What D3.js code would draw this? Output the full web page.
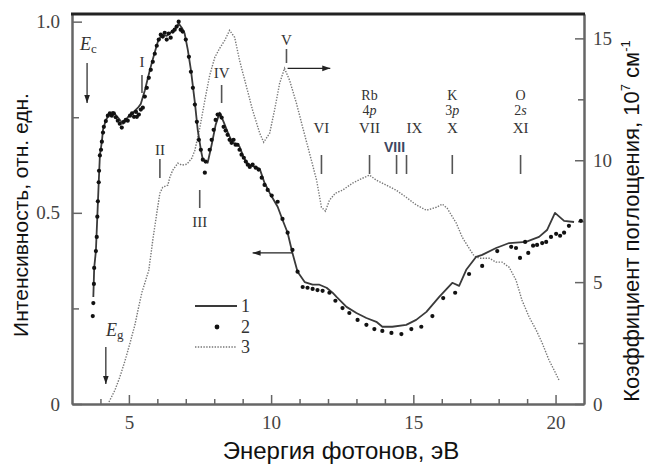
<!DOCTYPE html>
<html>
<head>
<meta charset="utf-8">
<script src="https://cdn.jsdelivr.net/npm/d3@7"></script>
<style>
  body { margin: 0; background: #fff; }
</style>
</head>
<body>
<svg id="chart"></svg>
<script>
// curve 1: luminescence excitation (solid), [energy eV, intensity]
const line1 = [
  [3.75, 0.28], [3.78, 0.356], [3.84, 0.40], [3.89, 0.49], [3.94, 0.58], [3.98, 0.65],
  [4.05, 0.686], [4.09, 0.717], [4.19, 0.743], [4.33, 0.76], [4.44, 0.764], [4.61, 0.75],
  [4.79, 0.733], [4.96, 0.75], [5.14, 0.762], [5.32, 0.775], [5.42, 0.785], [5.56, 0.82],
  [5.74, 0.874], [5.91, 0.92], [6.02, 0.948], [6.16, 0.966], [6.33, 0.963], [6.51, 0.974],
  [6.65, 0.984], [6.75, 0.995], [6.86, 0.984], [6.96, 0.969], [7.07, 0.927], [7.18, 0.874],
  [7.32, 0.788], [7.42, 0.717], [7.53, 0.665], [7.60, 0.639], [7.77, 0.631], [7.91, 0.678],
  [8.05, 0.73], [8.19, 0.762], [8.33, 0.738], [8.51, 0.704], [8.65, 0.683], [8.79, 0.681],
  [8.89, 0.673], [9.04, 0.644], [9.18, 0.628], [9.42, 0.62], [9.60, 0.615], [9.77, 0.578],
  [9.95, 0.552], [10.23, 0.516], [10.40, 0.482], [10.58, 0.448], [10.75, 0.395], [10.93, 0.346],
  [11.18, 0.319], [11.46, 0.312], [11.70, 0.312], [11.95, 0.304], [12.16, 0.291], [12.30, 0.28],
  [12.65, 0.254], [13.00, 0.238], [13.35, 0.225], [13.70, 0.215], [13.91, 0.202], [14.26, 0.202],
  [14.75, 0.207], [15.10, 0.22], [15.46, 0.241], [15.91, 0.28], [16.37, 0.317], [16.61, 0.309],
  [16.86, 0.351], [17.21, 0.385], [17.42, 0.39], [17.91, 0.408], [18.37, 0.421], [18.96, 0.424],
  [19.42, 0.437], [19.70, 0.455], [19.98, 0.50], [20.30, 0.479], [20.65, 0.476]
];

// curve 2: measured points
const points2 = [
  [3.73, 0.23], [3.75, 0.264], [3.77, 0.314], [3.78, 0.356], [3.84, 0.40], [3.87, 0.437],
  [3.89, 0.49], [3.91, 0.53], [3.94, 0.58], [3.95, 0.61], [3.98, 0.65], [4.02, 0.665],
  [4.05, 0.686], [4.09, 0.71], [4.12, 0.725], [4.19, 0.74], [4.26, 0.754], [4.33, 0.76],
  [4.40, 0.754], [4.47, 0.76], [4.54, 0.75], [4.61, 0.741], [4.68, 0.733], [4.75, 0.723],
  [4.82, 0.738], [4.89, 0.743], [4.96, 0.741], [5.04, 0.754], [5.11, 0.76], [5.18, 0.751],
  [5.25, 0.764], [5.28, 0.751], [5.35, 0.757], [5.42, 0.77], [5.49, 0.775], [5.56, 0.804],
  [5.63, 0.827], [5.70, 0.853], [5.77, 0.874], [5.84, 0.895], [5.91, 0.916], [5.98, 0.937],
  [6.05, 0.953], [6.12, 0.966], [6.19, 0.961], [6.26, 0.971], [6.33, 0.953], [6.40, 0.969],
  [6.47, 0.958], [6.54, 0.974], [6.61, 0.979], [6.68, 0.987], [6.75, 1.0], [6.82, 0.979],
  [6.89, 0.974], [7.00, 0.953], [7.11, 0.908], [7.18, 0.869], [7.25, 0.827], [7.32, 0.783],
  [7.39, 0.738], [7.46, 0.691], [7.53, 0.665], [7.60, 0.639], [7.70, 0.634], [7.67, 0.605],
  [7.84, 0.665], [7.91, 0.691], [7.98, 0.717], [8.05, 0.743], [8.12, 0.757], [8.19, 0.757],
  [8.26, 0.749], [8.33, 0.725], [8.40, 0.715], [8.47, 0.704], [8.54, 0.691], [8.61, 0.683],
  [8.68, 0.691], [8.75, 0.678], [8.82, 0.678], [8.89, 0.665], [8.96, 0.652], [9.04, 0.644],
  [9.11, 0.634], [9.18, 0.626], [9.25, 0.62], [9.35, 0.626], [9.46, 0.618], [9.56, 0.613],
  [9.67, 0.592], [9.77, 0.573], [9.88, 0.56], [10.02, 0.545], [10.23, 0.529], [10.40, 0.484],
  [10.58, 0.448], [10.75, 0.403], [10.93, 0.346], [11.11, 0.306], [11.28, 0.304], [11.46, 0.301],
  [11.63, 0.298], [11.81, 0.296], [12.05, 0.291], [12.26, 0.27], [12.51, 0.251], [12.75, 0.238],
  [13.04, 0.22], [13.35, 0.207], [13.63, 0.196], [13.91, 0.191], [14.23, 0.186], [14.58, 0.183],
  [14.93, 0.196], [15.28, 0.202], [15.67, 0.23], [16.05, 0.277], [16.47, 0.291], [16.96, 0.34],
  [17.42, 0.361], [17.95, 0.40], [18.44, 0.411], [18.61, 0.408], [18.75, 0.382], [18.93, 0.424],
  [19.04, 0.395], [19.21, 0.414], [19.35, 0.416], [19.53, 0.421], [19.67, 0.424], [19.84, 0.437],
  [20.02, 0.445], [20.16, 0.44], [20.30, 0.448], [20.47, 0.466], [20.89, 0.479]
];

// curve 3: absorption coefficient (dotted, right axis), [energy eV, 1e7 cm^-1]
const absorb3 = [
  [4.30, 0.08], [4.51, 0.57], [4.68, 1.1], [4.86, 1.76], [5.04, 2.5], [5.21, 3.24],
  [5.32, 3.85], [5.46, 4.59], [5.56, 4.96], [5.70, 5.49], [5.84, 6.72], [5.98, 7.83],
  [6.09, 8.65], [6.19, 8.89], [6.37, 8.98], [6.44, 9.3], [6.54, 9.59], [6.72, 9.88],
  [6.86, 9.8], [7.04, 9.84], [7.21, 10.08], [7.32, 10.41], [7.49, 11.31], [7.67, 12.46],
  [7.84, 13.48], [8.02, 14.22], [8.19, 14.59], [8.37, 14.92], [8.54, 15.33], [8.72, 15.04],
  [8.89, 14.1], [9.14, 12.99], [9.35, 12.05], [9.60, 11.11], [9.74, 10.74], [9.95, 11.11],
  [10.12, 12.05], [10.30, 13.16], [10.47, 13.77], [10.65, 13.28], [10.89, 12.34], [11.11, 11.35],
  [11.35, 10.29], [11.60, 9.18], [11.77, 8.07], [11.91, 7.91], [12.05, 8.36], [12.26, 8.65],
  [12.51, 8.77], [12.86, 9.06], [13.21, 9.26], [13.46, 9.39], [13.70, 9.18], [14.05, 8.98],
  [14.40, 8.77], [14.75, 8.48], [15.11, 8.16], [15.46, 7.95], [15.81, 8.07], [16.02, 8.2],
  [16.19, 8.03], [16.51, 7.42], [16.72, 6.84], [16.96, 6.39], [17.14, 6.07], [17.32, 5.98],
  [17.67, 5.98], [17.91, 5.82], [18.12, 5.82], [18.37, 5.61], [18.61, 5.08], [18.82, 4.26],
  [19.07, 3.57], [19.32, 3.03], [19.53, 2.5], [19.77, 1.8], [19.95, 1.39], [20.12, 0.98]
];

// ticks
const xMajor = [5, 10, 15, 20];
const xMinor = [4, 6, 7, 8, 9, 11, 12, 13, 14, 16, 17, 18, 19];
const yLeftMajor = [0, 0.5, 1.0];
const yLeftMinor = [0.25, 0.75];
const yRightMajor = [0, 5, 10, 15];
const yRightMinor = [2.5, 7.5, 12.5];

// feature marks: [label, energy of tick]
const features = [
  ["I", 5.46], ["II", 6.09], ["III", 7.49], ["IV", 8.26], ["V", 10.54],
  ["VI", 11.77], ["VII", 13.46], ["VIII", 14.41], ["IX", 14.76], ["X", 16.37], ["XI", 18.77]
];
const levels = [["Rb", "4p", 13.46], ["K", "3p", 16.37], ["O", "2s", 18.77]];

const width = 646, height = 465;
const plotL = 72, plotR = 584, plotT = 14, plotB = 404;
const serif = "'Liberation Serif', 'DejaVu Serif', serif";
const sans = "'Liberation Sans', Arial, sans-serif";

const svg = d3.select("#chart").attr("width", width).attr("height", height);

const x = d3.scaleLinear().domain([3, 21]).range([plotL, plotR]);
const yL = d3.scaleLinear().domain([0, 1.02]).range([plotB, plotT]);
const yR = d3.scaleLinear().domain([0, 16]).range([plotB, plotT]);

// arrow head
svg.append("defs").append("marker")
   .attr("id", "head")
   .attr("viewBox", "0 0 10 10")
   .attr("refX", 10).attr("refY", 5)
   .attr("markerUnits", "userSpaceOnUse")
   .attr("markerWidth", 9).attr("markerHeight", 8)
   .attr("orient", "auto")
   .append("path")
   .attr("d", "M0,1.5 L10,5 L0,8.5 Z")
   .attr("fill", "#222");

const styleAxis = g => {
    g.select(".domain").attr("stroke", "#666").attr("stroke-width", 2);
    g.selectAll(".tick line").attr("stroke", "#666").attr("stroke-width", 1.5);
    g.attr("font-family", serif).attr("font-size", 19);
    g.selectAll(".tick text").attr("fill", "#444");
};

// bottom axis
svg.append("g").attr("transform", `translate(0,${plotB})`)
   .call(d3.axisBottom(x).tickValues(xMinor).tickSize(-5).tickSizeOuter(0).tickFormat(""))
   .call(styleAxis);
svg.append("g").attr("transform", `translate(0,${plotB})`)
   .call(d3.axisBottom(x).tickValues(xMajor).tickSize(-9).tickSizeOuter(0).tickPadding(12).tickFormat(d3.format("d")))
   .call(styleAxis);

// left axis
svg.append("g").attr("transform", `translate(${plotL},0)`)
   .call(d3.axisLeft(yL).tickValues(yLeftMinor).tickSize(-7).tickSizeOuter(0).tickFormat(""))
   .call(styleAxis);
svg.append("g").attr("transform", `translate(${plotL},0)`)
   .call(d3.axisLeft(yL).tickValues(yLeftMajor).tickSize(-10).tickSizeOuter(0).tickPadding(12)
          .tickFormat(d => d === 0 ? "0" : d3.format(".1f")(d)))
   .call(styleAxis);

// right axis
svg.append("g").attr("transform", `translate(${plotR},0)`)
   .call(d3.axisRight(yR).tickValues(yRightMinor).tickSize(-6).tickSizeOuter(0).tickFormat(""))
   .call(styleAxis);
svg.append("g").attr("transform", `translate(${plotR},0)`)
   .call(d3.axisRight(yR).tickValues(yRightMajor).tickSize(-9).tickSizeOuter(0).tickPadding(9).tickFormat(d3.format("d")))
   .call(styleAxis);

// heavy top frame
svg.append("line")
   .attr("x1", plotL - 1).attr("x2", plotR + 1)
   .attr("y1", plotT).attr("y2", plotT)
   .attr("stroke", "#222").attr("stroke-width", 3);

// curve 3, dotted
svg.append("path")
   .datum(absorb3)
   .attr("fill", "none")
   .attr("stroke", "#777")
   .attr("stroke-width", 1.4)
   .attr("stroke-dasharray", "1.4,1.4")
   .attr("d", d3.line().x(d => x(d[0])).y(d => yR(d[1])));

// curve 1, solid
svg.append("path")
   .datum(line1)
   .attr("fill", "none")
   .attr("stroke", "#3a3a3a")
   .attr("stroke-width", 1.8)
   .attr("stroke-linejoin", "round")
   .attr("d", d3.line().x(d => x(d[0])).y(d => yL(d[1])));

// curve 2, points
svg.append("g").selectAll("circle")
   .data(points2)
   .enter()
   .append("circle")
   .attr("cx", d => x(d[0]))
   .attr("cy", d => yL(d[1]))
   .attr("r", 2.1)
   .attr("fill", "#111");

// feature labels and ticks
const featTextY = { I: 67, II: 155, III: 227, IV: 78, V: 45 };
const featTick = { I: [75, 93], II: [159, 178], III: [190, 208], IV: [85, 103], V: [49, 63] };
features.forEach(([name, e]) => {
    const row = !(name in featTextY);
    const ty = row ? 133 : featTextY[name];
    const [t1, t2] = row ? [155, 174] : featTick[name];
    svg.append("line")
       .attr("x1", x(e)).attr("x2", x(e))
       .attr("y1", t1).attr("y2", t2)
       .attr("stroke", "#555").attr("stroke-width", 1.6);
    if (name === "VIII") {
        svg.append("text")
           .attr("x", x(e) - 2).attr("y", 152)
           .attr("text-anchor", "middle")
           .attr("font-family", sans).attr("font-size", 14).attr("font-weight", "bold")
           .attr("fill", "#3d4660")
           .text(name);
        return;
    }
    svg.append("text")
       .attr("x", name === "IX" ? x(e) + 8 : x(e)).attr("y", ty)
       .attr("text-anchor", "middle")
       .attr("font-family", serif).attr("font-size", 15)
       .attr("fill", "#333")
       .text(name);
});

// atom levels above the row
levels.forEach(([atom, orb, e]) => {
    svg.append("text")
       .attr("x", x(e)).attr("y", 100)
       .attr("text-anchor", "middle")
       .attr("font-family", serif).attr("font-size", 14).attr("fill", "#333")
       .text(atom);
    svg.append("text")
       .attr("x", x(e)).attr("y", 115)
       .attr("text-anchor", "middle")
       .attr("font-family", serif).attr("font-size", 14).attr("fill", "#333")
       .call(t => {
           t.append("tspan").text(orb[0]);
           t.append("tspan").attr("font-style", "italic").text(orb.slice(1));
       });
});

// E_c and E_g markers
const edge = (label, sub, e, tx, ty, y1, y2) => {
    const t = svg.append("text")
       .attr("x", tx).attr("y", ty)
       .attr("font-family", serif).attr("fill", "#333");
    t.append("tspan").attr("font-size", 18).attr("font-style", "italic").text(label);
    t.append("tspan").attr("font-size", 13).attr("dy", 3).text(sub);
    svg.append("line")
       .attr("x1", x(e)).attr("x2", x(e))
       .attr("y1", y1).attr("y2", y2)
       .attr("stroke", "#222").attr("stroke-width", 1.2)
       .attr("marker-end", "url(#head)");
};
edge("E", "c", 3.53, 80, 50, 63, 103);
edge("E", "g", 4.19, 106, 336, 347, 384);

// axis-pointer arrows
svg.append("line")
   .attr("x1", x(10.58)).attr("x2", x(12.08))
   .attr("y1", yR(13.77)).attr("y2", yR(13.77))
   .attr("stroke", "#222").attr("stroke-width", 1.3)
   .attr("marker-end", "url(#head)");
svg.append("line")
   .attr("x1", x(10.75)).attr("x2", x(9.35))
   .attr("y1", yL(0.395)).attr("y2", yL(0.395))
   .attr("stroke", "#222").attr("stroke-width", 1.3)
   .attr("marker-end", "url(#head)");

// legend
const lg = svg.append("g").attr("font-family", serif).attr("font-size", 18).attr("fill", "#333");
lg.append("line").attr("x1", 195).attr("x2", 237).attr("y1", 306).attr("y2", 306)
  .attr("stroke", "#3a3a3a").attr("stroke-width", 1.8);
lg.append("circle").attr("cx", 217).attr("cy", 327).attr("r", 2.4).attr("fill", "#111");
lg.append("line").attr("x1", 195).attr("x2", 237).attr("y1", 347).attr("y2", 347)
  .attr("stroke", "#777").attr("stroke-width", 1.4).attr("stroke-dasharray", "1.4,1.4");
["1", "2", "3"].forEach((s, i) => {
    lg.append("text").attr("x", 241).attr("y", 312 + i * 20.5).text(s);
});

// axis titles
svg.append("text")
   .attr("x", 341).attr("y", 459)
   .attr("text-anchor", "middle")
   .attr("font-family", sans).attr("font-size", 24).attr("fill", "#111")
   .text("Энергия фотонов, эВ");

svg.append("text")
   .attr("transform", "translate(28,215) rotate(-90)")
   .attr("text-anchor", "middle")
   .attr("font-family", sans).attr("font-size", 21).attr("fill", "#111")
   .text("Интенсивность, отн. едн.");

const rt = svg.append("text")
   .attr("transform", "translate(639,221) rotate(-90)")
   .attr("text-anchor", "middle")
   .attr("font-family", sans).attr("font-size", 22).attr("fill", "#111");
rt.append("tspan").text("Коэффициент поглощения, 10");
rt.append("tspan").attr("font-size", 13).attr("dy", -9).text("7");
rt.append("tspan").attr("dy", 9).text(" см");
rt.append("tspan").attr("font-size", 13).attr("dy", -9).text("-1");
</script>
</body>
</html>
